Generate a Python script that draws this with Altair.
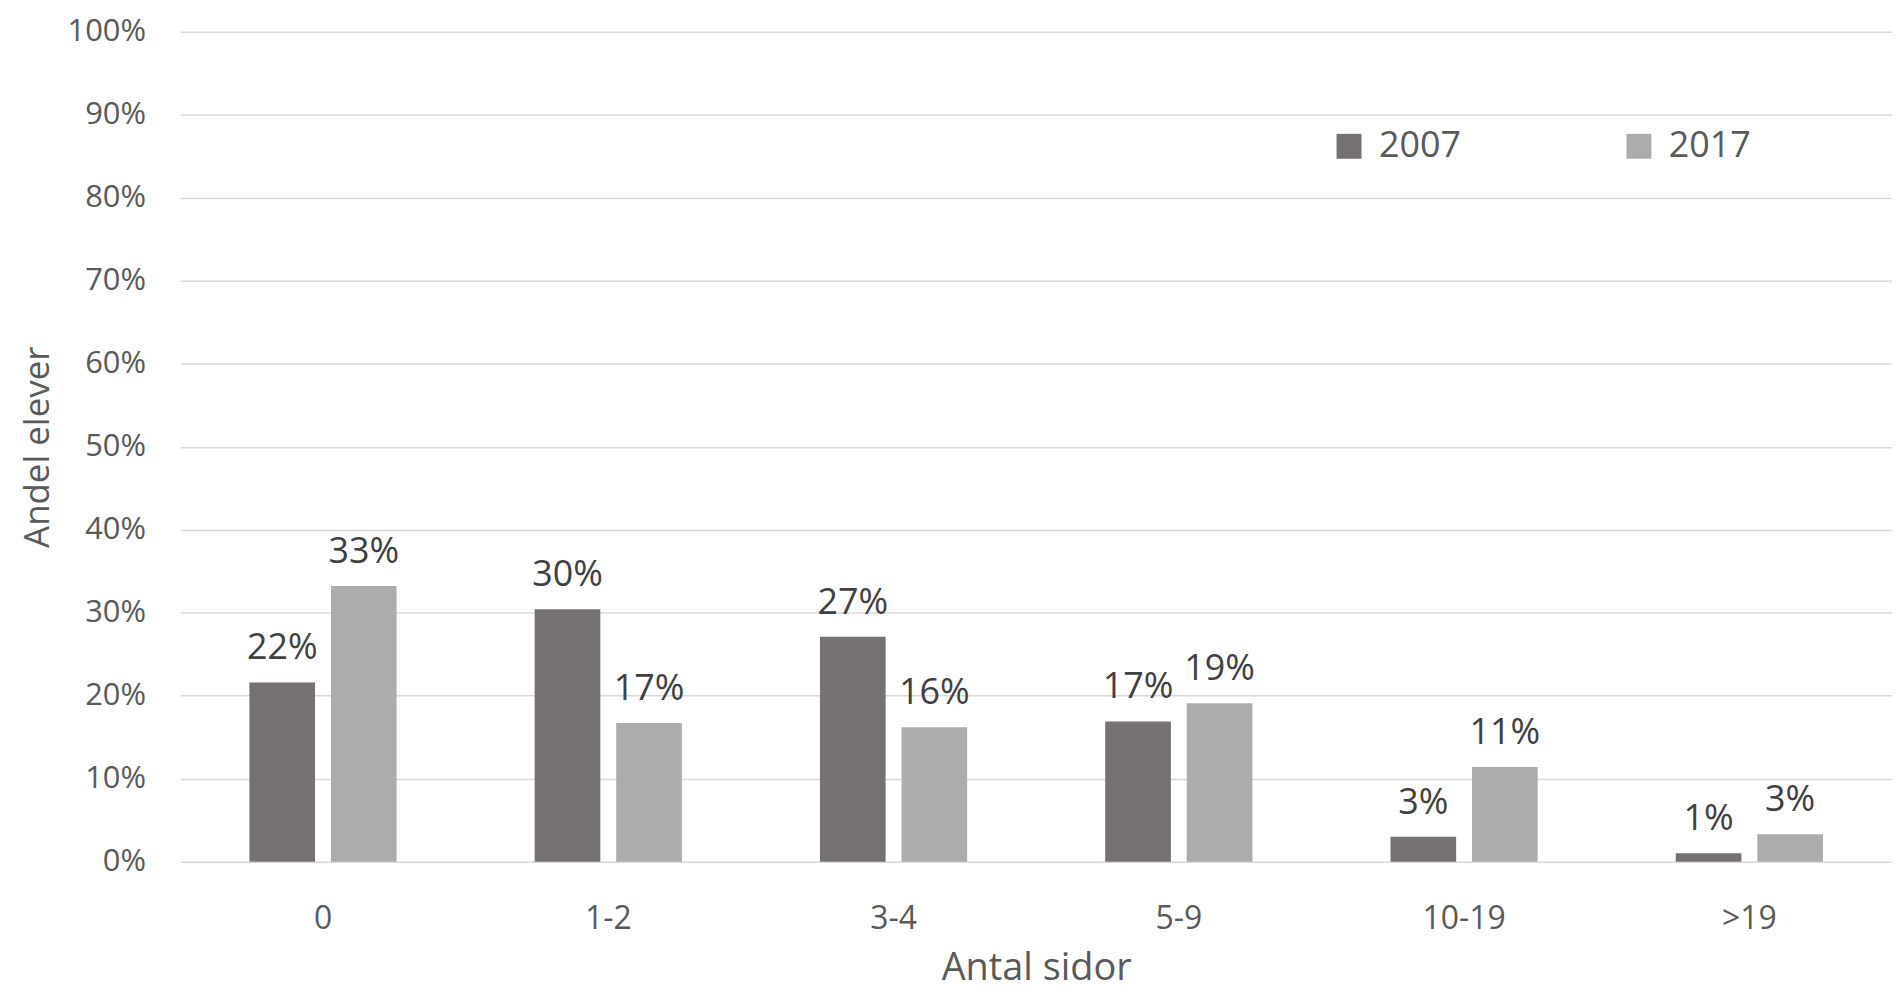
import altair as alt
import pandas as pd

categories = ["0", "1-2", "3-4", "5-9", "10-19", ">19"]
years = ["2007", "2017"]
values_2007 = [0.216, 0.304, 0.271, 0.169, 0.030, 0.010]
values_2017 = [0.332, 0.167, 0.162, 0.191, 0.114, 0.033]
y_ticks = [0, 0.1, 0.2, 0.3, 0.4, 0.5, 0.6, 0.7, 0.8, 0.9, 1.0]
colors = ["#767171", "#AEABAB"]

rows = []
for c, a, b in zip(categories, values_2007, values_2017):
    rows.append({"kat": c, "year": "2007", "val": a})
    rows.append({"kat": c, "year": "2017", "val": b})
df = pd.DataFrame(rows)

FONT = "Open Sans"
TXT = "#595959"

x_enc = alt.X(
    "kat:N",
    sort=categories,
    scale=alt.Scale(paddingInner=0.484, paddingOuter=0.242),
    axis=alt.Axis(
        title="Antal sidor",
        titleFontSize=38,
        titleFont=FONT,
        titleColor=TXT,
        titleFontWeight="normal",
        titlePadding=15,
        labelFontSize=32,
        labelFont=FONT,
        labelColor=TXT,
        labelPadding=42,
        labelAngle=0,
        ticks=False,
        domain=False,
        grid=False,
    ),
)
xoff = alt.XOffset("year:N", sort=years, scale=alt.Scale(paddingInner=0.195))
y_enc = alt.Y(
    "val:Q",
    scale=alt.Scale(domain=[0, 1], nice=False),
    axis=alt.Axis(
        title="Andel elever",
        titleFontSize=35,
        titleFont=FONT,
        titleColor=TXT,
        titleFontWeight="normal",
        titlePadding=12,
        values=y_ticks,
        format=".0%",
        labelFontSize=31,
        labelFont=FONT,
        labelColor=TXT,
        labelPadding=35,
        ticks=False,
        domain=False,
        grid=True,
        gridColor="#D9D9D9",
        gridWidth=1.5,
    ),
)

bars = alt.Chart(df).mark_bar().encode(
    x=x_enc,
    xOffset=xoff,
    y=y_enc,
    color=alt.Color(
        "year:N",
        sort=years,
        scale=alt.Scale(domain=years, range=colors),
        legend=alt.Legend(
            title=None,
            orient="none",
            legendX=1155,
            legendY=97,
            direction="horizontal",
            symbolType="square",
            symbolSize=625,
            symbolStrokeWidth=0,
            labelFontSize=36,
            labelFont=FONT,
            labelColor=TXT,
            labelOffset=12,
            columnPadding=160,
        ),
    ),
)

labels = alt.Chart(df).mark_text(
    font=FONT, fontSize=36, color="#404040", baseline="alphabetic", dy=-23
).encode(
    x=alt.X("kat:N", sort=categories),
    xOffset=alt.XOffset("year:N", sort=years),
    y=alt.Y("val:Q"),
    text=alt.Text("val:Q", format=".0%"),
)

chart = (
    alt.layer(bars, labels)
    .properties(
        width=1718,
        height=833,
        autosize=alt.AutoSizeParams(type="none"),
        padding={"left": 173, "top": 22, "right": 0, "bottom": 128},
    )
    .configure_view(stroke=None)
)

chart.save("out.html", embed_options={"renderer": "svg", "actions": False})
